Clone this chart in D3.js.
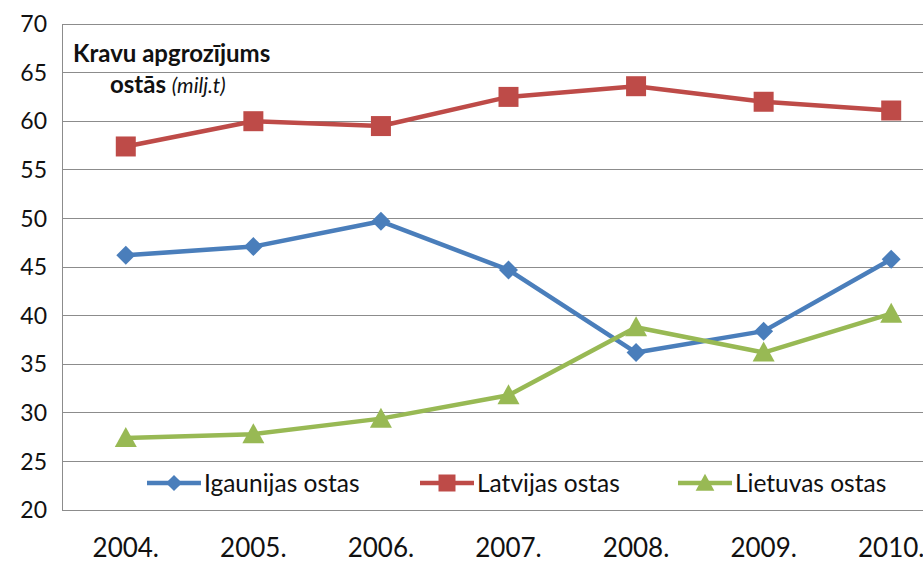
<!DOCTYPE html>
<html lang="lv">
<head>
<meta charset="utf-8">
<title>Kravu apgrozījums ostās</title>
<script src="https://d3js.org/d3.v7.min.js"></script>
<style>
  body { margin: 0; background: #fff; }
  svg { display: block; font-family: Lato, "Open Sans", sans-serif; }
  .grid line { stroke: #8c8c8c; stroke-width: 1; shape-rendering: crispEdges; }
  .axis text { fill: #111; }
  .series path { fill: none; stroke-width: 4.5; stroke-linejoin: round; }
</style>
</head>
<body>
<script>
// chart data
var years = ["2004.", "2005.", "2006.", "2007.", "2008.", "2009.", "2010."];
var igaunija = [46.2, 47.1, 49.7, 44.7, 36.2, 38.4, 45.8];
var latvija = [57.4, 60.0, 59.5, 62.5, 63.6, 62.0, 61.1];
var lietuva = [27.4, 27.8, 29.4, 31.8, 38.8, 36.2, 40.2];
var yTicks = [20, 25, 30, 35, 40, 45, 50, 55, 60, 65, 70];
var seriesNames = ["Igaunijas ostas", "Latvijas ostas", "Lietuvas ostas"];

var W = 923, H = 562;
var plotLeft = 62, plotRight = 955, plotTop = 24, plotBottom = 510;

var svg = d3.select("body").append("svg")
    .attr("width", W)
    .attr("height", H);

var x = d3.scalePoint().domain(years).range([plotLeft, plotRight]).padding(0.5);
var y = d3.scaleLinear().domain([20, 70]).range([plotBottom, plotTop]);

// horizontal gridlines
svg.append("g").attr("class", "grid")
  .selectAll("line")
  .data(yTicks)
  .enter().append("line")
    .attr("x1", plotLeft).attr("x2", plotRight)
    .attr("y1", function(d) { return y(d); })
    .attr("y2", function(d) { return y(d); });

// left axis line
svg.append("g").attr("class", "grid")
  .append("line")
    .attr("x1", plotLeft).attr("x2", plotLeft)
    .attr("y1", y(70)).attr("y2", y(20));

// y labels
svg.append("g").attr("class", "axis")
  .selectAll("text")
  .data(yTicks)
  .enter().append("text")
    .attr("x", 47)
    .attr("y", function(d) { return y(d); })
    .attr("dy", "0.36em")
    .attr("text-anchor", "end")
    .style("font-size", "23px")
    .text(function(d) { return d; });

// x labels
svg.append("g").attr("class", "axis")
  .selectAll("text")
  .data(years)
  .enter().append("text")
    .attr("x", function(d) { return x(d); })
    .attr("y", 557)
    .attr("text-anchor", "middle")
    .style("font-size", "26px")
    .text(function(d) { return d; });

var series = [
  {name: seriesNames[0], values: igaunija, color: "#4a7ebb", marker: "diamond"},
  {name: seriesNames[1], values: latvija, color: "#be4b48", marker: "square"},
  {name: seriesNames[2], values: lietuva, color: "#98b954", marker: "triangle"}
];

function markerPath(type) {
  if (type === "diamond") return "M0,-9.5L9.5,0L0,9.5L-9.5,0Z";
  if (type === "square") return "M-10,-10H10V10H-10Z";
  return "M0,-11L11,9H-11Z";
}

var line = d3.line()
    .x(function(d, i) { return x(years[i]); })
    .y(function(d) { return y(d); });

series.forEach(function(s) {
  var g = svg.append("g").attr("class", "series");
  g.append("path")
    .attr("d", line(s.values))
    .style("stroke", s.color);
  g.selectAll(".mk")
    .data(s.values)
    .enter().append("path")
      .attr("class", "mk")
      .attr("transform", function(d, i) { return "translate(" + x(years[i]) + "," + y(d) + ")"; })
      .attr("d", markerPath(s.marker))
      .style("fill", s.color)
      .style("stroke", "none");
});

// legend
var legendX = [147, 420, 678];
var legend = svg.append("g").attr("class", "legend");
series.forEach(function(s, i) {
  var g = legend.append("g").attr("transform", "translate(" + legendX[i] + ",483)");
  g.append("line")
    .attr("x1", 0).attr("x2", 54)
    .attr("y1", 0).attr("y2", 0)
    .style("stroke", s.color).style("stroke-width", 4.5);
  g.append("path")
    .attr("transform", "translate(27,0) scale(0.85)")
    .attr("d", markerPath(s.marker))
    .style("fill", s.color);
  g.append("text")
    .attr("x", 57)
    .attr("y", 0)
    .attr("dy", "0.36em")
    .style("font-size", "24.5px")
    .style("fill", "#111")
    .text(s.name);
});

// title
var title = svg.append("g").style("font-size", "24px").style("fill", "#111");
title.append("text")
  .attr("x", 73).attr("y", 62)
  .style("font-weight", "bold")
  .text("Kravu apgrozījums");
var t2 = title.append("text").attr("x", 110).attr("y", 93);
t2.append("tspan").style("font-weight", "bold").text("ostās ");
t2.append("tspan").style("font-style", "italic").style("font-size", "21px").text("(milj.t)");
</script>
</body>
</html>
